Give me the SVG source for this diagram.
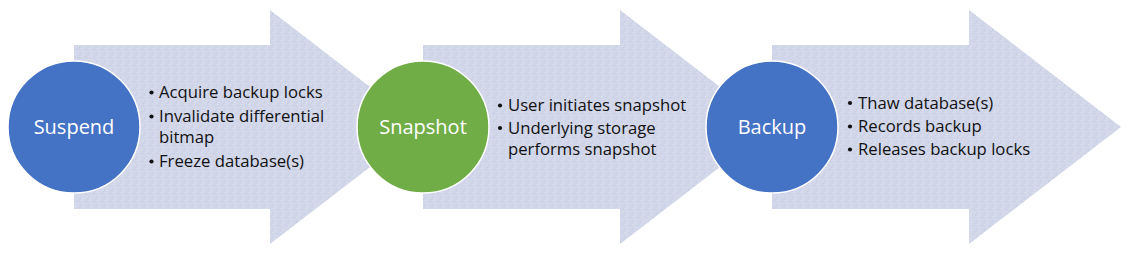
<svg xmlns="http://www.w3.org/2000/svg" width="1130" height="255" viewBox="0 0 1130 255">
<style>
.arrow{fill:url(#tex);}
.circle{stroke:#ffffff;stroke-width:1.5;}
.blue{fill:#4472C4;}
.green{fill:#70AD47;}
.label{font-family:"Open Sans","Liberation Sans",sans-serif;font-size:20px;fill:#ffffff;text-anchor:middle;}
.item{font-family:"Open Sans","Liberation Sans",sans-serif;font-size:16.7px;fill:#111111;}
.dot{fill:#111111;}
</style>
<defs>
<pattern id="tex" width="8" height="8" patternUnits="userSpaceOnUse">
<rect width="8" height="8" fill="#D1D6E9"/>
<rect x="1" y="0" width="1" height="1" fill="#DEE2F0"/>
<rect x="5" y="1" width="2" height="1" fill="#C8CEE4"/>
<rect x="3" y="3" width="1" height="1" fill="#DEE2F0"/>
<rect x="0" y="5" width="1" height="2" fill="#C9CFE4"/>
<rect x="6" y="4" width="1" height="1" fill="#DDE1EF"/>
<rect x="2" y="6" width="2" height="1" fill="#DCE0EE"/>
<rect x="7" y="7" width="1" height="1" fill="#C8CEE3"/>
</pattern>
</defs>
<g id="arrows">
<polygon id="arrow1" class="arrow" points="74,45 270,45 270,10 422,127 270,244 270,209 74,209"/>
<polygon id="arrow2" class="arrow" points="423,45 620,45 620,10 772,127 620,244 620,209 423,209"/>
<polygon id="arrow3" class="arrow" points="772,45 969,45 969,10 1121,127 969,244 969,209 772,209"/>
</g>
<g id="suspend">
<circle class="circle blue" cx="74" cy="127" r="66"/>
<text class="label" x="74" y="134">Suspend</text>
<circle class="dot" cx="151.5" cy="92.5" r="2.1"/>
<text class="item" x="159" y="98">Acquire backup locks</text>
<circle class="dot" cx="151.5" cy="116.5" r="2.1"/>
<text class="item" x="159" y="122">Invalidate differential</text>
<text class="item" x="159" y="143">bitmap</text>
<circle class="dot" cx="151.5" cy="161.5" r="2.1"/>
<text class="item" x="159" y="167">Freeze database(s)</text>
</g>
<g id="snapshot">
<circle class="circle green" cx="423" cy="127" r="66"/>
<text class="label" x="423" y="134">Snapshot</text>
<circle class="dot" cx="500" cy="105.5" r="2.1"/>
<text class="item" x="508" y="111">User initiates snapshot</text>
<circle class="dot" cx="500" cy="128" r="2.1"/>
<text class="item" x="508" y="133.5">Underlying storage</text>
<text class="item" x="508" y="155">performs snapshot</text>
</g>
<g id="backup">
<circle class="circle blue" cx="772" cy="127" r="66"/>
<text class="label" x="772" y="134">Backup</text>
<circle class="dot" cx="850" cy="103" r="2.1"/>
<text class="item" x="858" y="108.5">Thaw database(s)</text>
<circle class="dot" cx="850" cy="126.5" r="2.1"/>
<text class="item" x="858" y="132">Records backup</text>
<circle class="dot" cx="850" cy="149.5" r="2.1"/>
<text class="item" x="858" y="155">Releases backup locks</text>
</g>
</svg>
